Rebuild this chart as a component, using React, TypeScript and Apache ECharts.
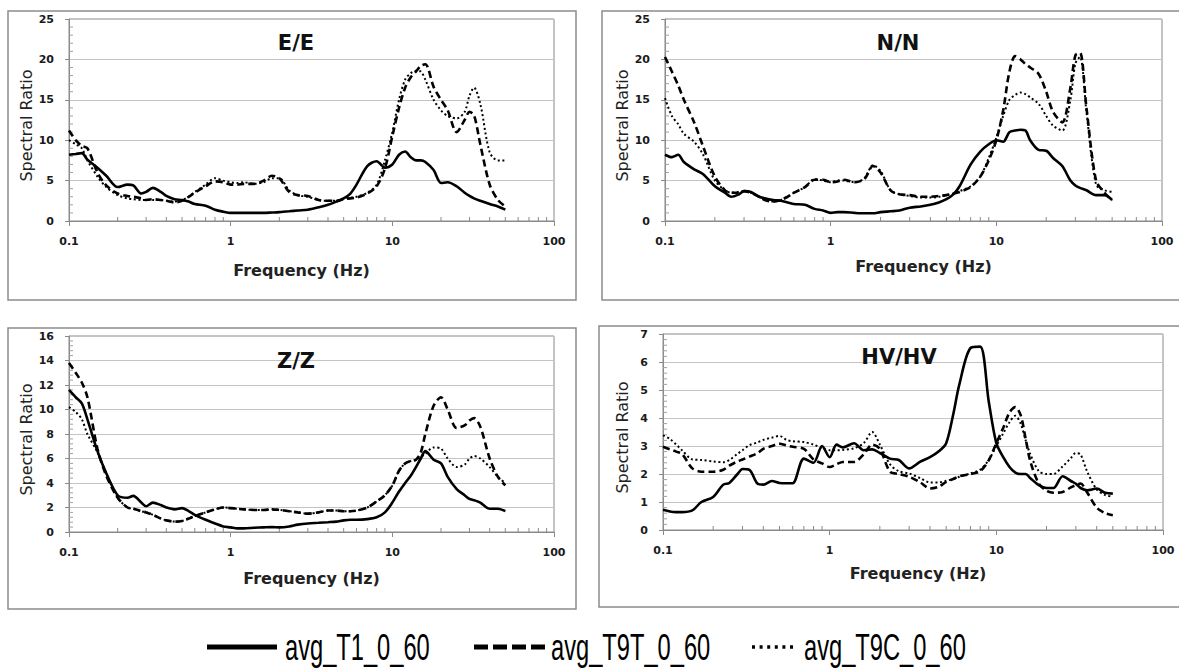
import React, { useEffect, useRef } from 'react';
import * as echarts from 'echarts';

// ---------------- data ----------------
const freqs = [0.1, 0.11, 0.12, 0.13, 0.15, 0.17, 0.2, 0.23, 0.25, 0.28, 0.3, 0.33, 0.37, 0.4, 0.45, 0.5, 0.55, 0.6, 0.7, 0.8, 0.9, 1, 1.1, 1.2, 1.4, 1.6, 1.8, 2, 2.3, 2.6, 3, 3.5, 4, 4.5, 5, 5.5, 6, 7, 8, 9, 10, 11, 12, 13, 14, 15, 16, 18, 20, 22, 25, 28, 30, 32, 35, 40, 45, 50];

const seriesNames = ['avg_T1_0_60', 'avg_T9T_0_60', 'avg_T9C_0_60'];
const panelTitles = ['E/E', 'N/N', 'Z/Z', 'HV/HV'];
const yMax = [25, 25, 16, 7];
const yInterval = [5, 5, 2, 1];
const minorFreqTicks = [0.2, 0.3, 0.4, 0.5, 0.6, 0.7, 0.8, 0.9, 2, 3, 4, 5, 6, 7, 8, 9, 20, 30, 40, 50, 60, 70, 80, 90];
const xAxisName = 'Frequency (Hz)';
const yAxisName = 'Spectral Ratio';

const eeT1 = [8.2, 8.3, 8.4, 7.6, 6.6, 5.6,
  4.2, 4.5, 4.4, 3.4, 3.6, 4.1, 3.6, 3.1, 2.7,
  2.6, 2.4, 2.1, 1.9, 1.4, 1.15,
  1.0, 1.0, 1.0, 1.0, 1.0, 1.05,
  1.1, 1.2, 1.3, 1.4, 1.7, 2.0, 2.4,
  2.8, 3.4, 4.5, 6.8, 7.4, 6.6,
  7.0, 8.2, 8.6, 7.9, 7.5, 7.5, 7.3, 6.3,
  4.7, 4.8, 4.3, 3.5, 3.1, 2.8, 2.5,
  2.1, 1.8, 1.4];
const eeT9T = [11.2, 10.0, 9.3, 9.0, 6.0, 4.4,
  3.4, 3.1, 3.0, 2.8, 2.6, 2.7, 2.6, 2.5, 2.3,
  2.5, 3.0, 3.5, 4.3, 4.9, 4.8,
  4.5, 4.5, 4.6, 4.6, 5.0, 5.6,
  5.3, 3.6, 3.2, 3.1, 2.6, 2.5, 2.5,
  2.7, 2.8, 2.9, 3.4, 4.3, 6.5,
  10.5, 14.0, 16.5, 17.8, 18.5, 19.2, 19.4, 16.6,
  15.0, 13.7, 11.0, 12.5, 13.5, 13.1, 9.5,
  4.5, 2.6, 1.8];
const eeT9C = [10.0, 9.5, 9.0, 7.5, 5.5, 4.2,
  3.2, 2.8, 2.7, 2.6, 2.6, 2.6, 2.6, 2.5, 2.4,
  2.6, 3.0, 3.6, 4.5, 5.3, 5.0,
  4.8, 4.7, 4.8, 4.6, 4.8, 5.3,
  5.3, 3.8, 3.2, 3.0, 2.6, 2.5, 2.5,
  2.8, 2.9, 3.0, 3.5, 4.5, 7.5,
  11.0, 15.0, 17.5, 18.3, 18.6, 18.5, 17.5, 15.0,
  13.7, 13.0, 12.7, 13.5, 15.5, 16.5, 14.5,
  8.5, 7.5, 7.5];

const nnT1 = [8.2, 7.9, 8.2, 7.3, 6.4, 5.8,
  4.3, 3.5, 3.0, 3.3, 3.7, 3.6, 3.0, 2.8, 2.6,
  2.5, 2.3, 2.1, 2.0, 1.5, 1.3,
  1.0, 1.1, 1.1, 1.0, 0.95, 0.95,
  1.1, 1.2, 1.3, 1.65, 1.8, 2.0, 2.3,
  2.7, 3.3, 4.3, 7.0, 8.6, 9.5,
  10.0, 9.8, 11.0, 11.2, 11.3, 11.2, 10.0, 8.8,
  8.7, 7.8, 6.8, 5.0, 4.4, 4.1, 3.8,
  3.2, 3.2, 2.6];
const nnT9T = [20.3, 18.5, 16.8, 15.0, 12.2, 9.2,
  5.5, 3.8, 3.5, 3.5, 3.7, 3.5, 3.0, 2.6, 2.4,
  2.6, 3.0, 3.5, 4.2, 5.1, 5.1,
  4.8, 4.9, 5.1, 4.8, 5.2, 6.8,
  6.0, 3.8, 3.3, 3.2, 3.0, 3.0, 3.1,
  3.2, 3.4, 3.6, 4.2, 5.5, 7.5,
  10.0, 13.7, 18.5, 20.4, 20.0, 19.4, 19.0, 18.2,
  16.0, 13.5, 12.2, 16.5, 20.5, 20.8, 14.0,
  5.0, 3.5, 2.5];
const nnT9C = [15.2, 13.0, 12.0, 10.8, 9.8, 8.2,
  5.0, 3.8, 3.5, 3.6, 3.7, 3.5, 3.0, 2.6, 2.4,
  2.6, 3.0, 3.5, 4.2, 5.2, 5.0,
  4.8, 5.0, 5.0, 4.8, 5.3, 6.9,
  6.2, 3.8, 3.3, 3.1, 2.9, 2.9, 3.0,
  3.2, 3.4, 3.7, 4.3, 5.5, 7.8,
  10.3, 13.0, 15.0, 15.6, 15.9, 15.7, 15.3, 14.5,
  13.0, 11.8, 11.2, 15.0, 19.5, 20.3, 13.5,
  4.5, 3.8, 3.6];

const zzT1 = [11.6, 11.0, 10.5, 9.2, 6.6, 4.8,
  3.0, 2.8, 2.95, 2.4, 2.1, 2.4, 2.2, 2.0, 1.85,
  1.95, 1.7, 1.4, 1.0, 0.7, 0.45,
  0.38, 0.3, 0.3, 0.35, 0.38, 0.4,
  0.38, 0.45, 0.6, 0.7, 0.75, 0.8, 0.85,
  0.95, 1.0, 1.0, 1.05, 1.2, 1.6,
  2.4, 3.3, 4.0, 4.6, 5.3, 6.0, 6.6, 5.9,
  5.6, 4.5, 3.5, 3.0, 2.7, 2.6, 2.4,
  1.9, 1.9, 1.7];
const zzT9T = [13.8, 13.0, 12.2, 11.0, 6.8, 4.6,
  2.8, 2.0, 1.9, 1.7, 1.6, 1.4, 1.1, 0.95, 0.85,
  0.9, 1.1, 1.3, 1.6, 1.85, 2.0,
  1.95, 1.9, 1.85, 1.8, 1.8, 1.85,
  1.8, 1.7, 1.6, 1.5, 1.6, 1.75, 1.75,
  1.7, 1.7, 1.75, 2.0, 2.5, 3.0,
  3.8, 5.0, 5.6, 5.8, 5.9, 6.5, 8.0, 10.3,
  11.0, 10.0, 8.5, 8.7, 9.1, 9.3, 8.6,
  6.0, 4.5, 3.8];
const zzT9C = [10.2, 9.8, 9.2, 8.0, 6.5, 4.8,
  2.8, 2.0, 1.9, 1.7, 1.6, 1.4, 1.1, 0.95, 0.85,
  0.9, 1.1, 1.3, 1.6, 1.85, 2.0,
  1.95, 1.9, 1.85, 1.8, 1.8, 1.85,
  1.8, 1.7, 1.6, 1.5, 1.6, 1.75, 1.75,
  1.7, 1.7, 1.75, 2.0, 2.5, 3.0,
  3.8, 5.0, 5.6, 5.8, 5.9, 6.1, 6.4, 6.9,
  6.8, 6.0, 5.3, 5.5, 6.0, 6.2, 6.0,
  5.3, 4.5, 4.0];

const hvT1 = [0.72, 0.66, 0.64, 0.64, 0.7, 1.0,
  1.18, 1.62, 1.68, 2.0, 2.18, 2.15, 1.65, 1.62, 1.75,
  1.68, 1.67, 1.67, 2.55, 2.4, 3.0,
  2.6, 3.05, 2.95, 3.1, 2.85, 2.88,
  2.75, 2.55, 2.5, 2.2, 2.44, 2.6, 2.8,
  3.1, 4.1, 5.2, 6.5, 6.55, 4.6,
  3.1, 2.6, 2.25, 2.05, 2.0, 2.0, 1.85, 1.6,
  1.5, 1.5, 1.92, 1.75, 1.65, 1.5, 1.42,
  1.48, 1.33, 1.3];
const hvT9T = [2.97, 2.88, 2.8, 2.72, 2.2, 2.08,
  2.08, 2.15, 2.3, 2.45, 2.52, 2.62, 2.75, 2.9, 3.0,
  3.08, 3.02, 2.97, 2.9, 2.52, 2.38,
  2.25, 2.35, 2.43, 2.43, 2.7, 3.05,
  2.9, 2.08, 2.0, 1.9, 1.7, 1.48, 1.54,
  1.72, 1.82, 1.92, 2.0, 2.1, 2.49,
  3.1, 3.65, 4.2, 4.39, 4.1, 3.25, 2.45, 1.65,
  1.4, 1.33, 1.36, 1.52, 1.6, 1.66, 1.35,
  0.8, 0.6, 0.53];
const hvT9C = [3.38, 3.25, 3.05, 2.85, 2.52, 2.5,
  2.45, 2.42, 2.5, 2.72, 2.85, 3.03, 3.13, 3.22, 3.3,
  3.36, 3.22, 3.17, 3.14, 3.05, 2.92,
  2.85, 2.85, 2.86, 2.92, 3.1, 3.5,
  3.05, 2.35, 2.1, 2.02, 1.85, 1.7, 1.7,
  1.76, 1.82, 1.9, 2.02, 2.15, 2.5,
  3.0, 3.45, 3.85, 4.08, 3.8, 3.2, 2.7, 2.1,
  2.0, 2.0, 2.27, 2.57, 2.75, 2.7, 2.1,
  1.45, 1.25, 1.19];

const panelData = [
  [eeT1, eeT9T, eeT9C],
  [nnT1, nnT9T, nnT9C],
  [zzT1, zzT9T, zzT9C],
  [hvT1, hvT9T, hvT9C],
];

// ---------------- layout ----------------
const grids = [
  { left: 69, top: 19, width: 485, height: 202 },
  { left: 665, top: 19, width: 497, height: 202 },
  { left: 69, top: 336, width: 485, height: 196 },
  { left: 663, top: 334, width: 500, height: 196 },
];
const frames = [
  { x: 8, y: 11, width: 568, height: 289 },
  { x: 602, y: 11, width: 620, height: 289 },
  { x: 8, y: 328, width: 568, height: 281 },
  { x: 599, y: 326, width: 620, height: 281 },
];
const titlePos = [
  [296, 43], [898, 43], [296, 361], [899, 357],
];
const xNameGap = [41, 37, 38, 35];
const xNamePad = [[0, 20, 0, 0], [0, 0, 0, 20], [0, 0, 0, 0], [0, 0, 0, 10]];

const lineStyles = [
  { width: 2.6, type: 'solid' },
  { width: 2.6, type: [7, 4] },
  { width: 2, type: [2, 2.6] },
];
const legendLayout = [
  { x1: 207, x2: 277, tx: 285, dash: null, w: 5 },
  { x1: 474, x2: 548, tx: 551, dash: [14, 5], w: 5 },
  { x1: 752, x2: 797, tx: 804, dash: [3, 4.6], w: 3.5 },
];

const FONT = 'DejaVu Sans';
const AXIS_GRAY = '#8a8a8a';

function minorYValues(i: number): number[] {
  const step = yInterval[i] / 5;
  const out: number[] = [];
  const n = Math.round(yMax[i] / step);
  for (let k = 1; k < n; k++) {
    if (k % 5 !== 0) out.push(+(k * step).toFixed(4));
  }
  return out;
}

export default function App() {
  const ref = useRef<HTMLDivElement>(null);

  useEffect(() => {
    if (!ref.current) return;
    const chart = echarts.init(ref.current, null, { renderer: 'svg' });

    const xAxes = grids.map((_, i) => ({
      type: 'log',
      logBase: 10,
      gridIndex: i,
      min: 0.1,
      max: 100,
      name: xAxisName,
      nameLocation: 'middle',
      nameGap: xNameGap[i],
      nameTextStyle: {
        fontFamily: FONT, fontSize: 16, fontWeight: 'bold', color: '#222',
        padding: xNamePad[i],
      },
      axisLine: { show: true, onZero: false, lineStyle: { color: AXIS_GRAY, width: 1 } },
      axisTick: { show: true, length: 5, lineStyle: { color: AXIS_GRAY } },
      axisLabel: {
        fontFamily: FONT, fontSize: 11, fontWeight: 'bold', color: '#1a1a1a', margin: 15,
      },
      splitLine: { show: false },
    }));

    const yAxes = grids.map((_, i) => ({
      type: 'value',
      gridIndex: i,
      min: 0,
      max: yMax[i],
      interval: yInterval[i],
      name: yAxisName,
      nameLocation: 'middle',
      nameGap: 33,
      nameTextStyle: { fontFamily: FONT, fontSize: 16, color: '#222', padding: [0, 11, 0, 0] },
      axisLine: { show: true, lineStyle: { color: AXIS_GRAY, width: 1 } },
      axisTick: { show: true, length: 4, lineStyle: { color: AXIS_GRAY } },
      axisLabel: {
        fontFamily: FONT, fontSize: 11, fontWeight: 'bold', color: '#1a1a1a', margin: 15,
      },
      splitLine: { show: true, lineStyle: { color: '#c4c4c4', width: 1 } },
    }));

    const series: any[] = [];
    panelData.forEach((arrs, i) => {
      arrs.forEach((vals, j) => {
        series.push({
          type: 'line',
          name: seriesNames[j],
          xAxisIndex: i,
          yAxisIndex: i,
          data: freqs.map((f, k) => [f, vals[k]]),
          showSymbol: false,
          symbol: 'none',
          smooth: 0.3,
          silent: true,
          z: 5 - j,
          lineStyle: { color: '#000', width: lineStyles[j].width, type: lineStyles[j].type },
        });
      });
      // x minor ticks (log 2..9), pointing inside
      series.push({
        type: 'custom',
        name: 'xMinorTicks' + i,
        xAxisIndex: i,
        yAxisIndex: i,
        silent: true,
        data: minorFreqTicks.map((f) => [f, 0]),
        encode: { x: 0, y: 1 },
        renderItem: (params: any, api: any) => {
          const p = api.coord([api.value(0), api.value(1)]);
          return {
            type: 'line',
            shape: { x1: p[0], y1: p[1], x2: p[0], y2: p[1] - 4 },
            style: { stroke: AXIS_GRAY, lineWidth: 1 },
          };
        },
        z: 1,
      });
      // y minor ticks, pointing inside
      series.push({
        type: 'custom',
        name: 'yMinorTicks' + i,
        xAxisIndex: i,
        yAxisIndex: i,
        silent: true,
        data: minorYValues(i).map((v) => [0.1, v]),
        encode: { x: 0, y: 1 },
        renderItem: (params: any, api: any) => {
          const p = api.coord([api.value(0), api.value(1)]);
          return {
            type: 'line',
            shape: { x1: p[0], y1: p[1], x2: p[0] + 4, y2: p[1] },
            style: { stroke: '#a0a0a0', lineWidth: 1 },
          };
        },
        z: 1,
      });
    });

    const graphics: any[] = [];
    frames.forEach((f) => {
      graphics.push({
        type: 'rect', silent: true, z: 0,
        shape: { x: f.x, y: f.y, width: f.width, height: f.height },
        style: { fill: 'none', stroke: '#8c8c8c', lineWidth: 1.5 },
      });
    });
    panelTitles.forEach((t, i) => {
      graphics.push({
        type: 'text', silent: true, z: 10,
        x: titlePos[i][0], y: titlePos[i][1],
        style: {
          text: t, fontFamily: FONT, fontSize: 21, fontWeight: 'bold', fill: '#111',
          align: 'center', verticalAlign: 'middle',
        },
      });
    });
    seriesNames.forEach((n, j) => {
      const L = legendLayout[j];
      graphics.push({
        type: 'line', silent: true,
        shape: { x1: L.x1, y1: 647, x2: L.x2, y2: 647 },
        style: { stroke: '#000', lineWidth: L.w, lineDash: L.dash || undefined },
      });
      graphics.push({
        type: 'text', silent: true,
        x: L.tx, y: 647, scaleX: 0.64, scaleY: 1,
        style: {
          text: n, fontFamily: 'Liberation Sans', fontSize: 37, fill: '#000',
          align: 'left', verticalAlign: 'middle',
        },
      });
    });

    chart.setOption({
      animation: false,
      backgroundColor: '#ffffff',
      grid: grids.map((g) => ({
        ...g, show: true, borderColor: AXIS_GRAY, borderWidth: 1, backgroundColor: 'transparent',
      })),
      xAxis: xAxes,
      yAxis: yAxes,
      series,
      graphic: graphics,
    });

    return () => chart.dispose();
  }, []);

  return (
    <div
      ref={ref}
      style={{ position: 'fixed', left: 0, top: 0, width: 1179, height: 670, background: '#fff' }}
    />
  );
}
